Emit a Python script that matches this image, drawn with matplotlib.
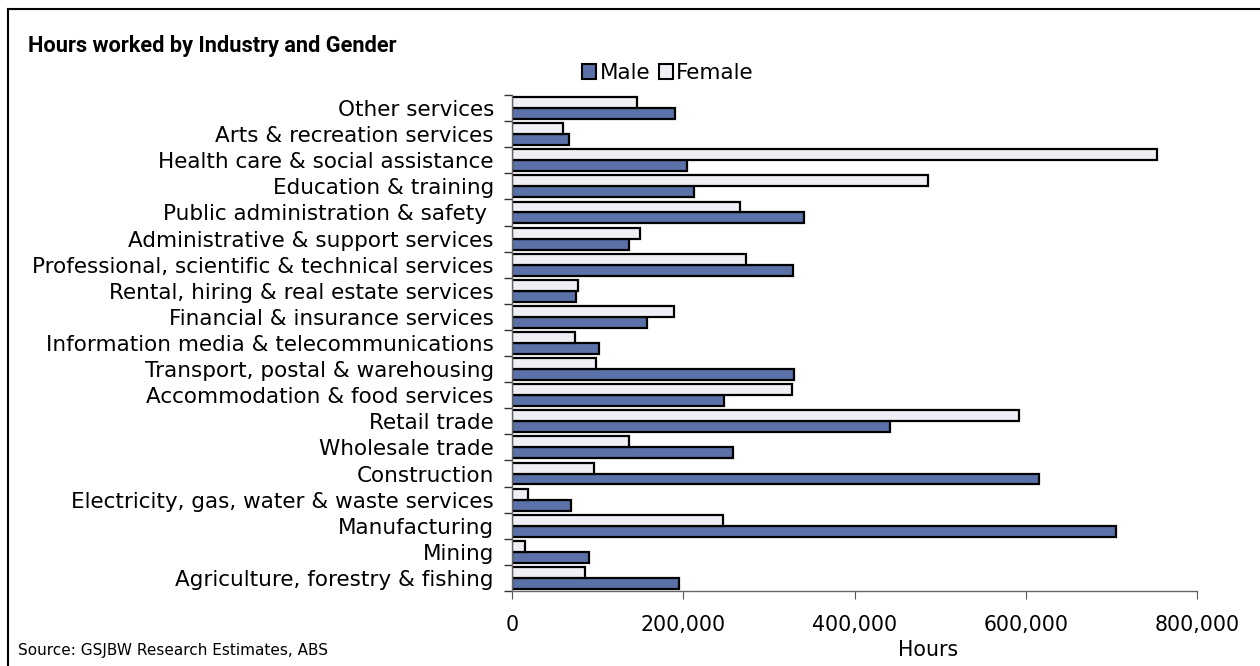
import numpy as np
import matplotlib.pyplot as plt
from matplotlib.lines import Line2D
from matplotlib.patches import Patch
from matplotlib.ticker import FuncFormatter

# categories from bottom to top, as drawn
industries = [
    "Agriculture, forestry & fishing",
    "Mining",
    "Manufacturing",
    "Electricity, gas, water & waste services",
    "Construction",
    "Wholesale trade",
    "Retail trade",
    "Accommodation & food services",
    "Transport, postal & warehousing",
    "Information media & telecommunications",
    "Financial & insurance services",
    "Rental, hiring & real estate services",
    "Professional, scientific & technical services",
    "Administrative & support services",
    "Public administration & safety ",
    "Education & training",
    "Health care & social assistance",
    "Arts & recreation services",
    "Other services",
]
male = [195000, 90000, 705000, 69000, 615000, 258000, 442000, 248000, 329000,
        102000, 158000, 75000, 328000, 137000, 341000, 212000, 204000, 66000, 190000]
female = [85000, 15000, 246000, 19000, 96000, 137000, 592000, 327000, 98000,
          74000, 189000, 77000, 273000, 149000, 266000, 486000, 753000, 60000, 146000]
xticks = [0, 200000, 400000, 600000, 800000]

male_col = "#5a72a8"
female_col = "#eff0f6"

fig = plt.figure(figsize=(12.6, 6.66), dpi=100)
ax = fig.add_axes([512/1260, 1-591/666, 685/1260, 496/666])

y = np.arange(len(industries))
h = 0.42
ax.barh(y - h/2, male, height=h, color=male_col, edgecolor="black", linewidth=1.6)
ax.barh(y + h/2, female, height=h, color=female_col, edgecolor="black", linewidth=1.6)

ax.set_xlim(0, 800000)
ax.set_ylim(-0.5, len(industries) - 0.5)
ax.set_xticks(xticks)
ax.xaxis.set_major_formatter(FuncFormatter(lambda v, p: f"{int(v):,}"))
ax.set_yticks(y)
ax.set_yticklabels(industries)
ax.tick_params(axis="y", length=0, labelsize=15.5, pad=13)
ax.set_yticks(np.arange(len(industries) + 1) - 0.5, minor=True)
ax.tick_params(axis="y", which="minor", length=6, color="#333333", width=1)
ax.tick_params(axis="x", length=6, color="#555555", labelsize=14.8, pad=11)

for s in ["top", "right"]:
    ax.spines[s].set_visible(False)
for s in ["left", "bottom"]:
    ax.spines[s].set_color("#666666")
    ax.spines[s].set_linewidth(1)

title = fig.text(28/1260, 1-52/666, "Hours worked by Industry and Gender", fontsize=17,
                 fontweight="bold", family="Roboto", va="baseline", ha="left")
# fit the title to the width it has in the original (about 370 px)
w = title.get_window_extent(renderer=fig.canvas.get_renderer()).width
title.set_fontsize(17 * 370 / w)

fig.text(928/1260, 1-650/666, "Hours", fontsize=14.8, ha="center", va="center")
fig.text(18/1260, 1-650/666, "Source: GSJBW Research Estimates, ABS", fontsize=11,
         ha="left", va="center")

handles = [Patch(facecolor=male_col, edgecolor="black", linewidth=1.5),
           Patch(facecolor=female_col, edgecolor="black", linewidth=1.5)]
fig.legend(handles, ["Male", "Female"], loc="center", bbox_to_anchor=(668/1260, 1-73/666),
           ncol=2, frameon=False, fontsize=15.5, handlelength=0.65, handleheight=0.65,
           handletextpad=0.15, columnspacing=0.4, borderpad=0)

# outer frame (top and left edges visible)
fig.add_artist(Line2D([8/1260, 1], [1-9/666, 1-9/666], color="black", linewidth=1.5))
fig.add_artist(Line2D([8/1260, 8/1260], [0, 1-9/666], color="black", linewidth=1.5))

fig.savefig("out.png", dpi=100)
